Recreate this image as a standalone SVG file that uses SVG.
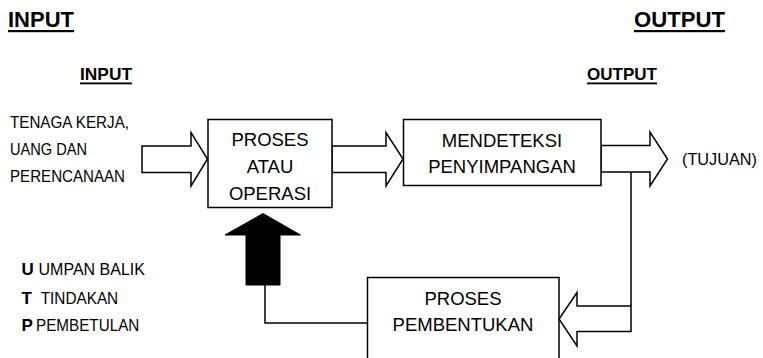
<svg xmlns="http://www.w3.org/2000/svg" width="763" height="358" viewBox="0 0 763 358">
<style>
.box{fill:#fff;stroke:#000;stroke-width:1.5}
.arr{fill:#fff;stroke:#000;stroke-width:1.5;stroke-linejoin:miter}
.line{fill:none;stroke:#000;stroke-width:1.5}
.hd{font-family:"Liberation Sans",Arial,sans-serif;font-weight:bold;fill:#000}
.lb{font-family:"Liberation Sans",Arial,sans-serif;fill:#000}
.bt{font-family:"Liberation Sans",Arial,sans-serif;font-size:18.5px;fill:#000;text-anchor:middle}
</style>
<rect width="763" height="358" fill="#fff"/>
<g id="headings">
<text class="hd" x="8" y="27" font-size="22" textLength="66" lengthAdjust="spacingAndGlyphs">INPUT</text>
<rect x="8" y="30" width="66" height="2.2" fill="#000"/>
<text class="hd" x="634" y="27" font-size="22" textLength="91" lengthAdjust="spacingAndGlyphs">OUTPUT</text>
<rect x="634" y="30" width="91" height="2.2" fill="#000"/>
<text class="hd" x="80" y="80" font-size="17" textLength="52" lengthAdjust="spacingAndGlyphs">INPUT</text>
<rect x="80" y="82.5" width="52" height="1.8" fill="#000"/>
<text class="hd" x="587" y="80" font-size="17" textLength="70" lengthAdjust="spacingAndGlyphs">OUTPUT</text>
<rect x="587" y="82.5" width="70" height="1.8" fill="#000"/>
</g>
<g id="input-text">
<text class="lb" x="10" y="127.5" font-size="17" textLength="119" lengthAdjust="spacingAndGlyphs">TENAGA KERJA,</text>
<text class="lb" x="10" y="155" font-size="17" textLength="77" lengthAdjust="spacingAndGlyphs">UANG DAN</text>
<text class="lb" x="10" y="182" font-size="17" textLength="115" lengthAdjust="spacingAndGlyphs">PERENCANAAN</text>
</g>
<g id="legend">
<text class="hd" x="21.5" y="275" font-size="17">U</text>
<text class="lb" x="38.5" y="275" font-size="17" textLength="106.5" lengthAdjust="spacingAndGlyphs">UMPAN BALIK</text>
<text class="hd" x="21.5" y="303.5" font-size="17">T</text>
<text class="lb" x="40.7" y="303.5" font-size="17" textLength="77.5" lengthAdjust="spacingAndGlyphs">TINDAKAN</text>
<text class="hd" x="21.5" y="331" font-size="17">P</text>
<text class="lb" x="36" y="331" font-size="17" textLength="103.3" lengthAdjust="spacingAndGlyphs">PEMBETULAN</text>
</g>
<g id="connectors">
<polygon class="arr" points="142,146 191,146 191,132.5 207.5,159 191,186 191,172.5 142,172.5"/>
<polygon class="arr" points="332,146 386,146 386,132.5 403,159 386,186 386,172.5 332,172.5"/>
<polygon class="arr" points="601,145.5 650,145.5 650,132 667.5,159 650,186 650,172 601,172"/>
<polyline class="line" points="631,172 631,306"/>
<polygon class="arr" points="631,306 577,306 577,292.5 559,319 577,346 577,331.5 631,331.5"/>
<polyline class="line" points="367,323 265,323 265,285"/>
<polygon fill="#000" stroke="#000" stroke-width="1" points="246,285 280,285 280,235 300.5,235 263,213.5 225,235 246,235"/>
</g>
<g id="node-proses-operasi">
<rect class="box" x="208" y="119.5" width="124" height="88"/>
<text class="bt" x="270" y="145.5">PROSES</text>
<text class="bt" x="270" y="172.5">ATAU</text>
<text class="bt" x="270" y="199.5">OPERASI</text>
</g>
<g id="node-mendeteksi">
<rect class="box" x="403.5" y="119.5" width="197.5" height="66"/>
<text class="bt" x="502" y="146.5">MENDETEKSI</text>
<text class="bt" x="502" y="172.5">PENYIMPANGAN</text>
</g>
<g id="node-tujuan">
<text class="lb" x="682" y="165" font-size="17" textLength="75" lengthAdjust="spacingAndGlyphs">(TUJUAN)</text>
</g>
<g id="node-proses-pembentukan">
<rect class="box" x="367.5" y="277.5" width="191.5" height="100"/>
<text class="bt" x="463" y="304.5">PROSES</text>
<text class="bt" x="463" y="331">PEMBENTUKAN</text>
</g>
</svg>
